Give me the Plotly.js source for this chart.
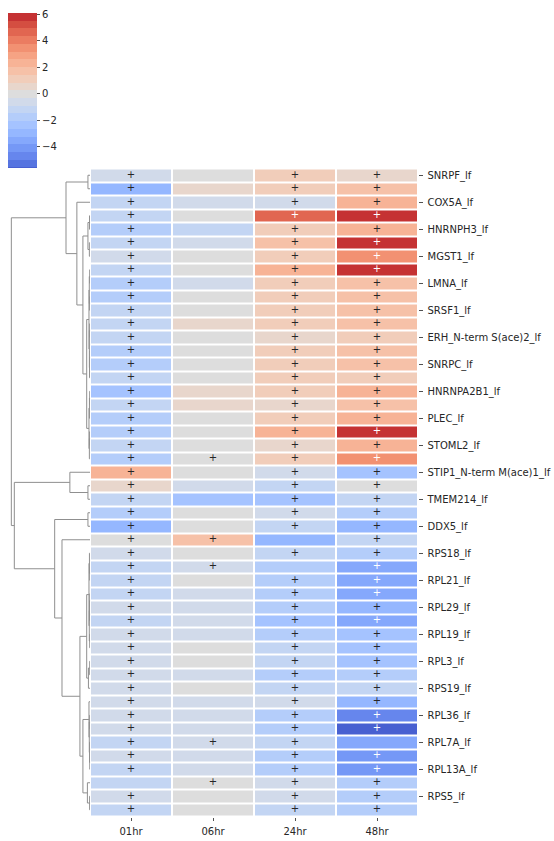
<!DOCTYPE html>
<html>
<head>
<meta charset="utf-8">
<script src="https://cdn.plot.ly/plotly-3.0.1.min.js"></script>
<style>
  html, body { margin: 0; padding: 0; background: #ffffff; }
  #chart { width: 554px; height: 841px; }
</style>
</head>
<body>
<div id="chart"></div>
<script>
// ---------------- data ----------------
const columns = ["01hr", "06hr", "24hr", "48hr"];

// labels shown for every other row (rows 0, 2, 4, ...)
const rowLabels = [
  "SNRPF_lf", "COX5A_lf", "HNRNPH3_lf", "MGST1_lf", "LMNA_lf", "SRSF1_lf",
  "ERH_N-term S(ace)2_lf", "SNRPC_lf", "HNRNPA2B1_lf", "PLEC_lf", "STOML2_lf",
  "STIP1_N-term M(ace)1_lf", "TMEM214_lf", "DDX5_lf", "RPS18_lf", "RPL21_lf",
  "RPL29_lf", "RPL19_lf", "RPL3_lf", "RPS19_lf", "RPL36_lf", "RPL7A_lf",
  "RPL13A_lf", "RPS5_lf"
];

const v01 = [-0.6, -2.9, -1.1, -1.0, -1.6, -1.2, -0.6, -1.1, -1.8, -1.7, -1.3, -1.2,
             -1.2, -1.8, -1.7, -1.1, -2.2, -1.1, -1.7, -1.8, -1.2, -1.7, 2.3, 0.5,
             -1.2, -1.7, -2.8, 0.0, -0.6, -1.1, -1.2, -1.1, -0.6, -1.2, -0.7, -0.6,
             -0.6, -0.5, -0.6, -0.7, -0.6, -0.6, -1.1, -0.6, -1.2, -1.0, -0.6, -1.1];
const v06 = [0.1, 0.5, -0.5, 0.0, -1.2, -0.4, 0.1, 0.0, -0.4, 0.1, 0.0, 0.4,
             -0.1, 0.0, -0.1, 0.1, 0.5, 0.6, 0.0, 0.1, 0.0, 0.1, 0.0, -0.5,
             -2.2, 0.0, 0.1, 1.7, 0.0, -0.5, 0.1, -0.6, -0.5, -0.6, -0.6, 0.0,
             0.1, -0.5, 0.0, -0.5, -0.6, -0.5, -0.5, -0.6, -0.5, 0.0, 0.0, 0.0];
const v24 = [1.2, 1.1, -0.6, 4.6, 1.1, 1.8, 1.2, 2.4, 1.2, 1.1, 1.2, 1.0,
             0.6, 1.2, 1.1, 1.2, 1.3, 0.7, 1.2, 2.4, 0.6, 1.3, -0.6, -1.1,
             -2.3, -0.6, -1.1, -2.9, -1.2, -1.8, -1.7, -1.8, -1.7, -2.2, -1.7, -1.2,
             -1.1, -1.7, -1.2, -0.6, -1.6, -1.8, -1.3, -1.7, -1.8, -0.6, -0.5, -1.2];
const v48 = [0.6, 1.7, 2.3, 5.8, 2.2, 5.9, 3.5, 5.7, 1.7, 1.6, 1.7, 1.8,
             1.3, 1.6, 1.6, 1.3, 2.3, 1.7, 2.2, 6.1, 2.2, 3.4, -2.3, 0.1,
             -1.0, -1.7, -2.9, -1.1, -1.6, -3.4, -3.4, -3.5, -3.0, -3.4, -2.4, -2.3,
             -2.3, -1.8, -1.3, -2.8, -4.5, -5.56, -3.3, -4.0, -4.1, -1.6, -1.6, -1.7];

// 1 = cell annotated with "+"
const sig01 = [1,1,1,1,1,1,1,1,1,1,1,1, 1,1,1,1,1,1,1,1,1,1,1,1,
               1,1,1,1,1,1,1,1,1,1,1,1, 1,1,1,1,1,1,1,1,1,0,1,1];
const sig06 = [0,0,0,0,0,0,0,0,0,0,0,0, 0,0,0,0,0,0,0,0,0,1,0,0,
               0,0,0,1,0,1,0,0,0,0,0,0, 0,0,0,0,0,0,1,0,0,1,0,0];
const sig24 = [1,1,1,1,1,1,1,1,1,1,1,1, 1,1,1,1,1,1,1,1,1,1,1,1,
               1,1,1,0,1,0,1,1,1,1,1,1, 1,1,1,1,1,1,1,1,1,1,1,1];
const sig48 = [1,1,1,1,1,1,1,1,1,1,1,1, 1,1,1,1,1,1,1,1,1,1,1,1,
               1,1,1,1,1,1,1,1,1,1,1,1, 1,1,1,1,1,1,0,1,1,1,1,1];

// row dendrogram linkage (leaves = display-order row index 0..47,
// merged clusters numbered 48, 49, ... in list order): [a, b, height]
const linkage = [
  [0, 1, 0.026], [3, 4, 0.006], [5, 6, 0.008], [49, 50, 0.026],
  [7, 8, 0.004], [9, 10, 0.005], [52, 53, 0.009], [11, 12, 0.004],
  [13, 14, 0.003], [56, 15, 0.006], [55, 57, 0.008], [54, 58, 0.013],
  [16, 17, 0.004], [60, 18, 0.007], [19, 20, 0.005], [62, 21, 0.008],
  [61, 63, 0.013], [59, 64, 0.042], [51, 65, 0.090], [2, 66, 0.167],
  [48, 67, 0.305],
  [23, 24, 0.026], [22, 69, 0.256], [25, 26, 0.026],
  [29, 30, 0.004], [28, 72, 0.007], [31, 32, 0.003], [74, 33, 0.006],
  [34, 35, 0.004], [75, 76, 0.009], [73, 77, 0.013],
  [36, 37, 0.004], [79, 38, 0.020], [78, 80, 0.042],
  [40, 41, 0.004], [43, 44, 0.003], [42, 83, 0.006], [82, 84, 0.009],
  [39, 85, 0.013], [46, 47, 0.005], [45, 87, 0.033], [86, 88, 0.090],
  [81, 89, 0.128], [27, 90, 0.356], [71, 91, 0.449], [70, 92, 0.962],
  [68, 93, 1.000]
];

// ---------------- colour map (matplotlib coolwarm) ----------------
const COOLWARM = [
  [59,76,192],[68,90,204],[77,104,215],[87,117,225],[98,130,234],[108,142,241],
  [119,154,247],[130,165,251],[141,176,254],[152,185,255],[163,194,255],[174,201,253],
  [184,208,249],[194,213,244],[204,217,238],[213,219,230],[221,221,221],[229,216,209],
  [236,211,197],[241,204,185],[245,196,173],[247,187,160],[247,177,148],[247,166,135],
  [244,154,123],[241,141,111],[236,127,99],[229,112,88],[222,96,77],[213,80,66],
  [203,62,56],[192,40,47],[180,4,38]
];
function coolwarm(t) {
  const p = Math.max(0, Math.min(1, t)) * (COOLWARM.length - 1);
  const i = Math.min(Math.floor(p), COOLWARM.length - 2);
  const f = p - i;
  const a = COOLWARM[i], b = COOLWARM[i + 1];
  return [0, 1, 2].map(j => Math.round(a[j] + (b[j] - a[j]) * f));
}
const rgbStr = c => `rgb(${c[0]},${c[1]},${c[2]})`;

const nRows = v01.length;
const cols = [v01, v06, v24, v48];
const sigs = [sig01, sig06, sig24, sig48];
const z = [];
for (let i = 0; i < nRows; i++) z.push(cols.map(c => c[i]));
const allVals = cols.flat();
const zmin = Math.min(...allVals), zmax = Math.max(...allVals);

// discrete palette of 21 colours, centred on 0
const NB = 21;
const V = Math.max(zmax, -zmin);
const bw = 2 * V / NB;
const bandColor = k => coolwarm((k + 1) / (NB + 1));
const colorscale = [];
for (let k = 0; k < NB; k++) {
  let lo = Math.max(-V + k * bw, zmin), hi = Math.min(-V + (k + 1) * bw, zmax);
  if (hi <= lo) continue;
  const c = rgbStr(bandColor(k));
  colorscale.push([(lo - zmin) / (zmax - zmin), c]);
  colorscale.push([(hi - zmin) / (zmax - zmin), c]);
}
colorscale[0][0] = 0;
colorscale[colorscale.length - 1][0] = 1;

function lum(c) {
  const l = c.map(x => { x /= 255; return x <= 0.03928 ? x / 12.92 : Math.pow((x + 0.055) / 1.055, 2.4); });
  return 0.2126 * l[0] + 0.7152 * l[1] + 0.0722 * l[2];
}
function textColorFor(v) {
  const k = Math.max(0, Math.min(NB - 1, Math.floor((v + V) / bw)));
  return lum(bandColor(k)) > 0.408 ? "#262626" : "#ffffff";
}

// ---------------- traces ----------------
const FONT = "DejaVu Sans, Liberation Sans, sans-serif";
const W = 554, H = 841;
const hmLeft = 90, hmRight = 418, hmTop = 168.5, hmBottom = 816.5;

const heat = {
  type: "heatmap",
  z: z,
  x: columns.map((_, j) => j),
  y: z.map((_, i) => i),
  zmin: zmin, zmax: zmax,
  colorscale: colorscale,
  xgap: 2, ygap: 2,
  hoverinfo: "skip",
  colorbar: {
    x: 8 / W, xanchor: "left", xpad: 0,
    y: 1 - 12.7 / H, yanchor: "top", ypad: 0,
    thickness: 29, thicknessmode: "pixels",
    len: 155, lenmode: "pixels",
    outlinewidth: 0,
    tickvals: [-4, -2, 0, 2, 4, 6],
    ticks: "outside", ticklen: 3.5, tickwidth: 0.8, tickcolor: "#262626",
    ticklabelstandoff: 2,
    tickfont: { family: FONT, size: 10, color: "#262626" }
  }
};

const tx = [], ty = [], tc = [];
for (let i = 0; i < nRows; i++) {
  for (let j = 0; j < cols.length; j++) {
    if (sigs[j][i]) { tx.push(j); ty.push(i); tc.push(textColorFor(cols[j][i])); }
  }
}
const plusText = {
  type: "scatter", mode: "text",
  x: tx, y: ty, text: tx.map(() => "+"),
  textposition: "middle center",
  textfont: { family: FONT, size: 10, color: tc },
  hoverinfo: "skip", showlegend: false,
  xaxis: "x", yaxis: "y"
};

// dendrogram from linkage
const nodeY = {}, nodeH = {};
for (let i = 0; i < nRows; i++) { nodeY[i] = i; nodeH[i] = 0; }
const dx = [], dy = [];
linkage.forEach((m, idx) => {
  const id = nRows + idx;
  const [a, b, h] = m;
  dx.push(nodeH[a], h, h, nodeH[b], null);
  dy.push(nodeY[a], nodeY[a], nodeY[b], nodeY[b], null);
  nodeY[id] = (nodeY[a] + nodeY[b]) / 2;
  nodeH[id] = h;
});
const rootH = Math.max(...linkage.map(m => m[2]));
const dendro = {
  type: "scatter", mode: "lines",
  x: dx, y: dy,
  line: { color: "#8f8f8f", width: 1 },
  hoverinfo: "skip", showlegend: false,
  xaxis: "x2", yaxis: "y2"
};

const yDomain = [(H - hmBottom) / H, (H - hmTop) / H];
const layout = {
  width: W, height: H,
  margin: { l: 0, r: 0, t: 0, b: 0 },
  paper_bgcolor: "#ffffff", plot_bgcolor: "#ffffff",
  showlegend: false,
  font: { family: FONT, size: 10, color: "#262626" },
  xaxis: {
    domain: [hmLeft / W, hmRight / W], range: [-0.5, columns.length - 0.5],
    tickvals: columns.map((_, j) => j), ticktext: columns,
    ticks: "outside", ticklen: 3.5, tickwidth: 0.8, tickcolor: "#262626",
    ticklabelstandoff: 2,
    showgrid: false, zeroline: false, showline: false, fixedrange: true,
    tickfont: { family: FONT, size: 10, color: "#262626" },
    anchor: "y"
  },
  yaxis: {
    domain: yDomain, range: [nRows - 0.5, -0.5],
    side: "right",
    tickvals: rowLabels.map((_, k) => 2 * k), ticktext: rowLabels,
    ticks: "outside", ticklen: 3.5, tickwidth: 0.8, tickcolor: "#262626",
    ticklabelstandoff: 3,
    showgrid: false, zeroline: false, showline: false, fixedrange: true,
    tickfont: { family: FONT, size: 10, color: "#262626" },
    anchor: "x"
  },
  xaxis2: {
    domain: [0, hmLeft / W], range: [rootH * 1.144, 0],
    visible: false, fixedrange: true, anchor: "y2"
  },
  yaxis2: {
    domain: yDomain, range: [nRows - 0.5, -0.5],
    visible: false, fixedrange: true, anchor: "x2"
  }
};

Plotly.newPlot("chart", [heat, plusText, dendro], layout, { staticPlot: true, displayModeBar: false });
</script>
</body>
</html>
